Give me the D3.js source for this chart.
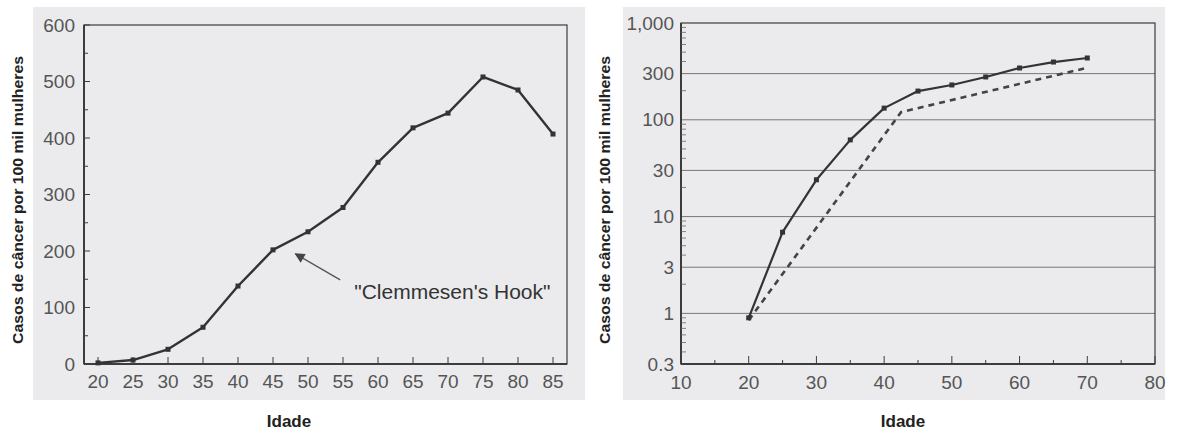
<!DOCTYPE html>
<html>
<head>
<meta charset="utf-8">
<script src="https://cdn.jsdelivr.net/npm/d3@7"></script>
<style>
html,body{margin:0;padding:0;background:#fff;}
svg{display:block;}
text{font-family:"Liberation Sans",Arial,sans-serif;}
</style>
</head>
<body>
<svg id="chart" width="1178" height="432"></svg>
<script>
// ---- data ----
const ages = [20,25,30,35,40,45,50,55,60,65,70,75,80,85];
const incidence = [2,7,26,65,138,202,234,277,357,418,444,508,485,407];
const leftYTicks = [0,100,200,300,400,500,600];

const logAges = [20,25,30,35,40,45,50,55,60,65,70];
const logRates = [0.9,6.9,24,62,132,198,229,277,343,395,435];
const dashAges = [20,42.5,70];
const dashRates = [0.85,120,345];
const logYTicks = [0.3,1,3,10,30,100,300,1000];
const logYLabels = ["0.3","1","3","10","30","100","300","1,000"];
const logXTicks = [10,20,30,40,50,60,70,80];

const yTitle = "Casos de câncer por 100 mil mulheres";
const xTitle = "Idade";
const annotation = "\"Clemmesen's Hook\"";

const svg = d3.select("#chart");
const axisColor = "#3c3c3c";
const labelColor = "#555";

// scanned panel backgrounds
svg.append("rect").attr("x",33).attr("y",7).attr("width",552).attr("height",393).attr("fill","#ebebed");
svg.append("rect").attr("x",623).attr("y",7).attr("width",542).attr("height",393).attr("fill","#ebebed");

// ================= LEFT CHART =================
const xL = d3.scaleLinear().domain([18,87]).range([84,567]);
const yL = d3.scaleLinear().domain([0,600]).range([364,25]);
const gL = svg.append("g");

gL.append("rect").attr("x",xL.range()[0]).attr("y",yL.range()[1])
  .attr("width",xL.range()[1]-xL.range()[0]).attr("height",yL.range()[0]-yL.range()[1])
  .attr("fill","none").attr("stroke",axisColor).attr("stroke-width",1.2);
gL.append("line").attr("x1",84).attr("x2",567).attr("y1",364).attr("y2",364).attr("stroke",axisColor).attr("stroke-width",2);
gL.append("line").attr("x1",84).attr("x2",84).attr("y1",25).attr("y2",364).attr("stroke",axisColor).attr("stroke-width",2);

const yMinor = d3.range(50,600,100);
gL.selectAll(".ymaj").data(leftYTicks).enter().append("line")
  .attr("x1",84).attr("x2",90).attr("y1",d=>yL(d)).attr("y2",d=>yL(d)).attr("stroke",axisColor);
gL.selectAll(".ymin").data(yMinor).enter().append("line")
  .attr("x1",84).attr("x2",88).attr("y1",d=>yL(d)).attr("y2",d=>yL(d)).attr("stroke",axisColor);
gL.selectAll(".ylab").data(leftYTicks).enter().append("text")
  .attr("x",75).attr("y",d=>yL(d)+6.5).attr("text-anchor","end")
  .attr("font-size",19).attr("fill",labelColor).text(d=>d);

gL.selectAll(".xt").data(ages).enter().append("line")
  .attr("x1",d=>xL(d)).attr("x2",d=>xL(d)).attr("y1",364).attr("y2",357).attr("stroke",axisColor);
gL.selectAll(".xlab").data(ages).enter().append("text")
  .attr("x",d=>xL(d)).attr("y",388).attr("text-anchor","middle")
  .attr("font-size",19).attr("fill",labelColor).text(d=>d);

const lineL = d3.line().x((d,i)=>xL(ages[i])).y(d=>yL(d));
gL.append("path").attr("d",lineL(incidence)).attr("fill","none")
  .attr("stroke","#333").attr("stroke-width",2.4).attr("stroke-linejoin","round");
gL.selectAll(".mk").data(incidence).enter().append("rect")
  .attr("x",(d,i)=>xL(ages[i])-2.5).attr("y",d=>yL(d)-2.5).attr("width",5).attr("height",5).attr("fill","#333");

svg.append("defs").append("marker").attr("id","arrow").attr("viewBox","0 0 10 10")
  .attr("refX",9).attr("refY",5).attr("markerWidth",12).attr("markerHeight",10)
  .attr("markerUnits","userSpaceOnUse").attr("orient","auto")
  .append("path").attr("d","M0,0 L10,5 L0,10 z").attr("fill","#444");
gL.append("line").attr("x1",xL(54.6)).attr("y1",yL(149)).attr("x2",xL(48.2)).attr("y2",yL(195))
  .attr("stroke","#555").attr("stroke-width",1.3).attr("marker-end","url(#arrow)");
gL.append("text").attr("x",xL(56.6)).attr("y",yL(115)).attr("font-size",21).attr("fill","#333").text(annotation);

gL.append("text").attr("transform","translate(23,200) rotate(-90)").attr("text-anchor","middle")
  .attr("font-size",15.5).attr("font-weight","bold").attr("fill","#222")
  .attr("textLength",288).attr("lengthAdjust","spacingAndGlyphs").text(yTitle);
gL.append("text").attr("x",289).attr("y",427).attr("text-anchor","middle")
  .attr("font-size",17).attr("font-weight","bold").attr("fill","#222").text(xTitle);

// ================= RIGHT CHART =================
const xR = d3.scaleLinear().domain([10,80]).range([681,1155]);
const yR = d3.scaleLog().domain([0.3,1000]).range([364,23]);
const gR = svg.append("g");

gR.selectAll(".grid").data(logYTicks.slice(1,-1)).enter().append("line")
  .attr("x1",681).attr("x2",1155).attr("y1",d=>yR(d)).attr("y2",d=>yR(d))
  .attr("stroke","#777").attr("stroke-width",1);
gR.append("rect").attr("x",681).attr("y",23).attr("width",474).attr("height",341)
  .attr("fill","none").attr("stroke",axisColor).attr("stroke-width",1.2);
gR.append("line").attr("x1",681).attr("x2",1155).attr("y1",364).attr("y2",364).attr("stroke",axisColor).attr("stroke-width",2);
gR.append("line").attr("x1",681).attr("x2",681).attr("y1",23).attr("y2",364).attr("stroke",axisColor).attr("stroke-width",2);

const minorLog = [];
[0.1,1,10,100].forEach(p=>{ for(let m=2;m<=9;m++){ const v=m*p; if(v>0.3&&v<1000&&m!==3) minorLog.push(v);} });
gR.selectAll(".lmin").data(minorLog).enter().append("line")
  .attr("x1",681).attr("x2",686).attr("y1",d=>yR(d)).attr("y2",d=>yR(d)).attr("stroke","#666").attr("stroke-width",0.8);
gR.selectAll(".ylab").data(logYTicks).enter().append("text")
  .attr("x",674).attr("y",d=>yR(d)+6.5).attr("text-anchor","end")
  .attr("font-size",19).attr("fill",labelColor).text((d,i)=>logYLabels[i]);

const xMinorR = d3.range(15,80,10);
gR.selectAll(".xt").data(logXTicks).enter().append("line")
  .attr("x1",d=>xR(d)).attr("x2",d=>xR(d)).attr("y1",364).attr("y2",356).attr("stroke",axisColor);
gR.selectAll(".xtm").data(xMinorR).enter().append("line")
  .attr("x1",d=>xR(d)).attr("x2",d=>xR(d)).attr("y1",364).attr("y2",360).attr("stroke",axisColor);
gR.selectAll(".xlab").data(logXTicks).enter().append("text")
  .attr("x",d=>xR(d)).attr("y",389).attr("text-anchor","middle")
  .attr("font-size",19).attr("fill",labelColor).text(d=>d);

const lineD = d3.line().x((d,i)=>xR(dashAges[i])).y(d=>yR(d));
gR.append("path").attr("d",lineD(dashRates)).attr("fill","none")
  .attr("stroke","#444").attr("stroke-width",2.6).attr("stroke-dasharray","6,5");
const lineS = d3.line().x((d,i)=>xR(logAges[i])).y(d=>yR(d));
gR.append("path").attr("d",lineS(logRates)).attr("fill","none")
  .attr("stroke","#333").attr("stroke-width",2.2).attr("stroke-linejoin","round");
gR.selectAll(".mk").data(logRates).enter().append("rect")
  .attr("x",(d,i)=>xR(logAges[i])-2.5).attr("y",d=>yR(d)-2.5).attr("width",5).attr("height",5).attr("fill","#333");

gR.append("text").attr("transform","translate(610,200) rotate(-90)").attr("text-anchor","middle")
  .attr("font-size",15.5).attr("font-weight","bold").attr("fill","#222")
  .attr("textLength",288).attr("lengthAdjust","spacingAndGlyphs").text(yTitle);
gR.append("text").attr("x",903).attr("y",427).attr("text-anchor","middle")
  .attr("font-size",17).attr("font-weight","bold").attr("fill","#222").text(xTitle);
</script>
</body>
</html>
